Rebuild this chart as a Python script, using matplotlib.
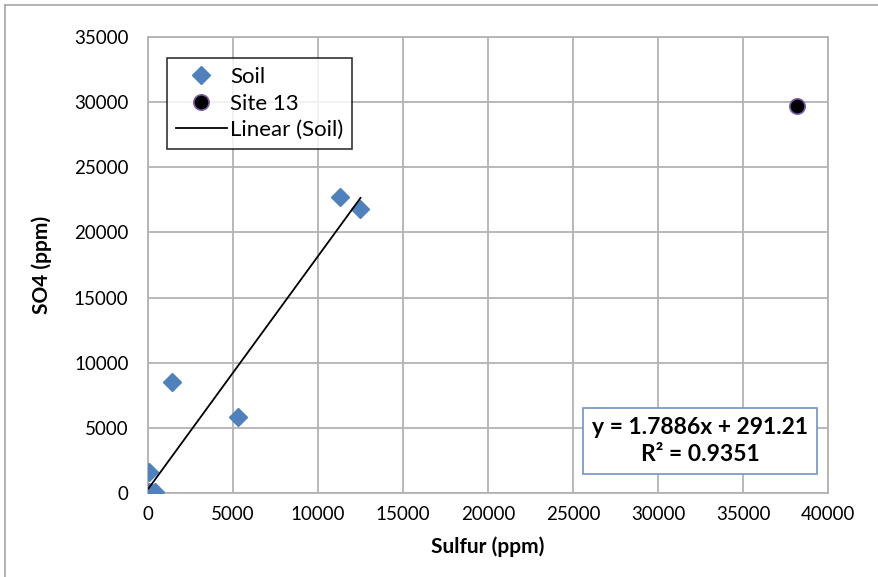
import matplotlib.pyplot as plt
import numpy as np

plt.rcParams["font.family"] = ["Lato", "DejaVu Sans"]

# Soil samples: sulfur vs sulfate (ppm)
soil_sulfur = [50, 250, 400, 30, 1400, 5300, 11300, 12500]
soil_so4 = [100, 0, 50, 1600, 8500, 5800, 22700, 21800]

# Site 13 outlier
site13_sulfur = [38200]
site13_so4 = [29700]

# Linear fit of the soil samples
slope = 1.7886
intercept = 291.21
r_squared = 0.9351

x_ticks = np.arange(0, 40001, 5000)
y_ticks = np.arange(0, 35001, 5000)

grid_gray = "#B3B3B3"

fig = plt.figure(figsize=(8.79, 5.77), dpi=100, facecolor="white")
ax = fig.add_axes([148 / 879, 84 / 577, 680 / 879, 456 / 577])

ax.plot(soil_sulfur, soil_so4, linestyle="none", marker="D", markersize=9.5,
        color="#4F81BD", markeredgecolor="#4F81BD", label="Soil", zorder=3)
ax.plot(site13_sulfur, site13_so4, linestyle="none", marker="o", markersize=11,
        color="black", markeredgecolor="#7B5AA6", markeredgewidth=1.2,
        label="Site 13", zorder=3)

fit_x = np.array([min(soil_sulfur), max(soil_sulfur)])
ax.plot(fit_x, slope * fit_x + intercept, color="black", linewidth=1.3,
        label="Linear (Soil)", zorder=4)

ax.set_xlim(0, 40000)
ax.set_ylim(0, 35000)
ax.set_xticks(x_ticks)
ax.set_yticks(y_ticks)
ax.tick_params(axis="y", length=0, labelsize=13.5, pad=14, colors="black")
ax.tick_params(axis="x", length=0, labelsize=13.5, pad=9, colors="black")
ax.grid(True, color=grid_gray, linewidth=1.3)
ax.set_axisbelow(True)
for sp in ax.spines.values():
    sp.set_color(grid_gray)
    sp.set_linewidth(1.3)

ax.set_xlabel("Sulfur (ppm)", fontsize=15, fontweight="bold", labelpad=10)
ax.set_ylabel("SO4 (ppm)", fontsize=15, fontweight="bold", labelpad=16)

leg = ax.legend(loc="upper left", bbox_to_anchor=(19 / 680, 1 - 21 / 456),
                fontsize=16, frameon=True, fancybox=False, edgecolor="black",
                borderpad=0.4, labelspacing=0.3, handlelength=2.3,
                handletextpad=0.15, borderaxespad=0)
leg.get_frame().set_linewidth(1.2)

ax.text(0.812, 0.114, f"y = {slope}x + {intercept}\nR² = {r_squared}",
        transform=ax.transAxes, ha="center", va="center", fontsize=16.5,
        fontweight="bold", linespacing=1.35,
        bbox=dict(boxstyle="square,pad=0.38", facecolor="white",
                  edgecolor="#6F94CC", linewidth=1.2))

# chart area frame, only top and left edges fall inside the image
fig.add_artist(plt.Line2D([5 / 879, 5 / 879], [0, 1 - 5 / 577],
                          transform=fig.transFigure, color="#A6A6A6", linewidth=1.2))
fig.add_artist(plt.Line2D([5 / 879, 1], [1 - 5 / 577, 1 - 5 / 577],
                          transform=fig.transFigure, color="#A6A6A6", linewidth=1.2))

fig.savefig("out.png", dpi=100, facecolor="white")
